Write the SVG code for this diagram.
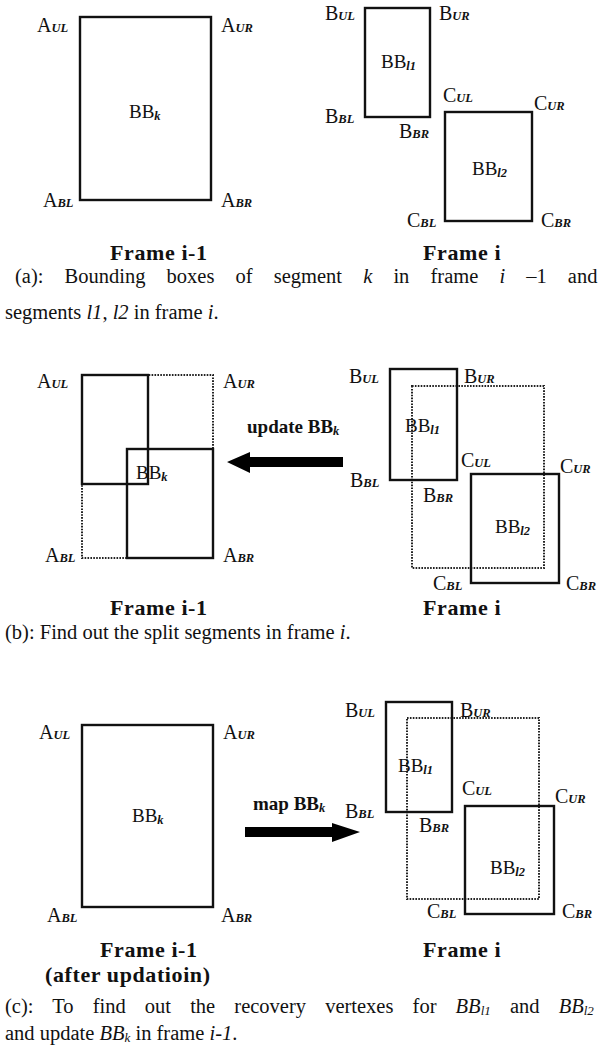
<svg xmlns="http://www.w3.org/2000/svg" width="611" height="1051" viewBox="0 0 611 1051">
<style>
text{font-family:"Liberation Serif","Times New Roman",serif;fill:#111}
.lbl{font-size:20px}
.sub{font-size:12.5px;font-style:italic;font-weight:bold}
.bb{font-size:19px}
.bsub{font-size:12.5px;font-style:italic;font-weight:bold}
.frame{font-size:22px;font-weight:bold;letter-spacing:0.6px}
.cap{font-size:20.5px}
.it{font-style:italic}
.act{font-size:19px;font-weight:bold}
.box{fill:none;stroke:#111;stroke-width:2.4}
.dot{fill:none;stroke:#222;stroke-width:2;stroke-dasharray:1.6 1.3}
.arrow{fill:#000}
</style>
<rect width="611" height="1051" fill="#fff"/>

<!-- Panel (a) -->
<g id="panel-a">
  <g id="a-bbk">
    <rect class="box" x="80" y="17" width="131" height="183"/>
    <text class="bb" x="129" y="118">BB<tspan class="bsub" dy="2">k</tspan></text>
    <text class="lbl" x="37" y="32">A<tspan class="sub">UL</tspan></text>
    <text class="lbl" x="221" y="32">A<tspan class="sub">UR</tspan></text>
    <text class="lbl" x="43" y="207">A<tspan class="sub">BL</tspan></text>
    <text class="lbl" x="221" y="207">A<tspan class="sub">BR</tspan></text>
  </g>
  <g id="a-bbl1">
    <rect class="box" x="365" y="8" width="65" height="109"/>
    <text class="bb" x="381" y="68">BB<tspan class="bsub" dy="2">l1</tspan></text>
    <text class="lbl" x="325" y="20">B<tspan class="sub">UL</tspan></text>
    <text class="lbl" x="439" y="20">B<tspan class="sub">UR</tspan></text>
    <text class="lbl" x="325" y="123">B<tspan class="sub">BL</tspan></text>
    <text class="lbl" x="399" y="138">B<tspan class="sub">BR</tspan></text>
  </g>
  <g id="a-bbl2">
    <rect class="box" x="445" y="112" width="87" height="109"/>
    <text class="bb" x="472" y="175">BB<tspan class="bsub" dy="2">l2</tspan></text>
    <text class="lbl" x="443" y="102">C<tspan class="sub">UL</tspan></text>
    <text class="lbl" x="534" y="110">C<tspan class="sub">UR</tspan></text>
    <text class="lbl" x="407" y="227">C<tspan class="sub">BL</tspan></text>
    <text class="lbl" x="541" y="227">C<tspan class="sub">BR</tspan></text>
  </g>
  <text class="frame" x="110" y="260">Frame i-1</text>
  <text class="frame" x="423" y="260">Frame i</text>
  <text class="cap" x="15" y="283" word-spacing="16">(a): Bounding boxes of segment <tspan class="it">k</tspan> in frame <tspan class="it">i</tspan> –1 and</text>
  <text class="cap" x="5" y="319">segments <tspan class="it">l1</tspan>, <tspan class="it">l2</tspan> in frame <tspan class="it">i</tspan>.</text>
</g>

<!-- Panel (b) -->
<g id="panel-b">
  <g id="b-bbk">
    <rect class="dot" x="82" y="375" width="131" height="183"/>
    <rect class="box" x="82" y="375" width="66" height="109"/>
    <rect class="box" x="127" y="449" width="86" height="109"/>
    <text class="bb" x="136" y="479">BB<tspan class="bsub" dy="2">k</tspan></text>
    <text class="lbl" x="37" y="388">A<tspan class="sub">UL</tspan></text>
    <text class="lbl" x="223" y="388">A<tspan class="sub">UR</tspan></text>
    <text class="lbl" x="45" y="562">A<tspan class="sub">BL</tspan></text>
    <text class="lbl" x="223" y="562">A<tspan class="sub">BR</tspan></text>
  </g>
  <g id="b-union">
    <rect class="dot" x="412" y="386" width="132" height="182"/>
  </g>
  <g id="b-bbl1">
    <rect class="box" x="390" y="369" width="67" height="111"/>
    <text class="bb" x="405" y="432">BB<tspan class="bsub" dy="2">l1</tspan></text>
    <text class="lbl" x="349" y="383">B<tspan class="sub">UL</tspan></text>
    <text class="lbl" x="464" y="383">B<tspan class="sub">UR</tspan></text>
    <text class="lbl" x="350" y="487">B<tspan class="sub">BL</tspan></text>
    <text class="lbl" x="423" y="502">B<tspan class="sub">BR</tspan></text>
  </g>
  <g id="b-bbl2">
    <rect class="box" x="471" y="474" width="88" height="109"/>
    <text class="bb" x="495" y="533">BB<tspan class="bsub" dy="2">l2</tspan></text>
    <text class="lbl" x="461" y="467">C<tspan class="sub">UL</tspan></text>
    <text class="lbl" x="560" y="473">C<tspan class="sub">UR</tspan></text>
    <text class="lbl" x="433" y="590">C<tspan class="sub">BL</tspan></text>
    <text class="lbl" x="566" y="590">C<tspan class="sub">BR</tspan></text>
  </g>
  <text class="frame" x="110" y="615">Frame i-1</text>
  <text class="frame" x="423" y="615">Frame i</text>
  <text class="cap" x="5" y="639">(b): Find out the split segments in frame <tspan class="it">i</tspan>.</text>
</g>

<!-- Panel (c) -->
<g id="panel-c">
  <g id="c-bbk">
    <rect class="box" x="82" y="725" width="131" height="182"/>
    <text class="bb" x="132" y="822">BB<tspan class="bsub" dy="2">k</tspan></text>
    <text class="lbl" x="39" y="739">A<tspan class="sub">UL</tspan></text>
    <text class="lbl" x="223" y="739">A<tspan class="sub">UR</tspan></text>
    <text class="lbl" x="47" y="922">A<tspan class="sub">BL</tspan></text>
    <text class="lbl" x="221" y="922">A<tspan class="sub">BR</tspan></text>
  </g>
  <g id="c-union">
    <rect class="dot" x="407" y="718" width="132" height="181"/>
  </g>
  <g id="c-bbl1">
    <rect class="box" x="386" y="702" width="66" height="110"/>
    <text class="bb" x="398" y="772">BB<tspan class="bsub" dy="2">l1</tspan></text>
    <text class="lbl" x="345" y="717">B<tspan class="sub">UL</tspan></text>
    <text class="lbl" x="460" y="717">B<tspan class="sub">UR</tspan></text>
    <text class="lbl" x="345" y="818">B<tspan class="sub">BL</tspan></text>
    <text class="lbl" x="419" y="832">B<tspan class="sub">BR</tspan></text>
  </g>
  <g id="c-bbl2">
    <rect class="box" x="465" y="806" width="89" height="108"/>
    <text class="bb" x="490" y="874">BB<tspan class="bsub" dy="2">l2</tspan></text>
    <text class="lbl" x="462" y="795">C<tspan class="sub">UL</tspan></text>
    <text class="lbl" x="555" y="803">C<tspan class="sub">UR</tspan></text>
    <text class="lbl" x="427" y="918">C<tspan class="sub">BL</tspan></text>
    <text class="lbl" x="562" y="918">C<tspan class="sub">BR</tspan></text>
  </g>
  <text class="frame" x="100" y="957">Frame i-1</text>
  <text class="frame" x="423" y="957">Frame i</text>
  <text class="frame" x="45" y="982">(after updatioin)</text>
  <text class="cap" x="5" y="1013" word-spacing="14">(c): To find out the recovery vertexes for <tspan class="it">BB<tspan font-size="13" dy="2">l1</tspan></tspan><tspan dy="-2"> and </tspan><tspan class="it">BB<tspan font-size="13" dy="2">l2</tspan></tspan></text>
  <text class="cap" x="5" y="1040">and update <tspan class="it">BB<tspan font-size="13" dy="2">k</tspan></tspan><tspan dy="-2">  in frame </tspan><tspan class="it">i-1</tspan>.</text>
</g>

<!-- Connectors -->
<g id="connectors">
  <g id="arrow-update">
    <polygon class="arrow" points="227,462 250,452 250,457 343,457 343,467 250,467 250,473"/>
    <text class="act" x="247" y="433">update BB<tspan class="bsub" dy="2">k</tspan></text>
  </g>
  <g id="arrow-map">
    <polygon class="arrow" points="360,832 332,823 332,827 245,827 245,837 332,837 332,842"/>
    <text class="act" x="253" y="810">map BB<tspan class="bsub" dy="2">k</tspan></text>
  </g>
</g>
</svg>
